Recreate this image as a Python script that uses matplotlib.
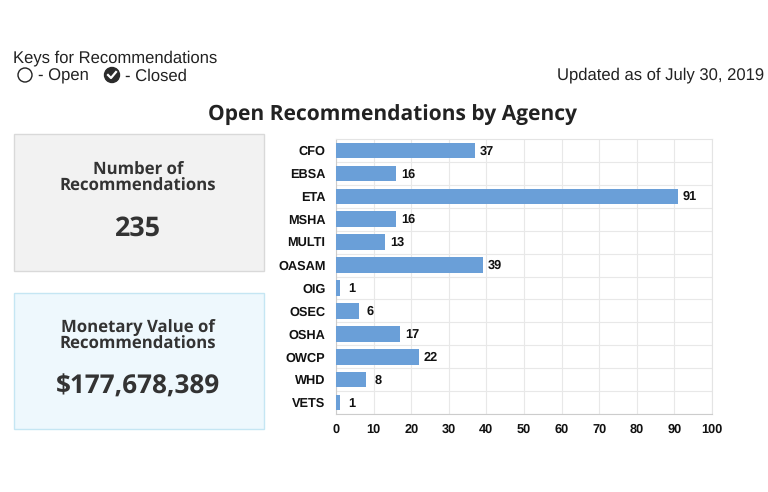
import matplotlib
matplotlib.use('Agg')
import matplotlib.pyplot as plt
from matplotlib.patches import Rectangle, Circle

agencies = ['CFO', 'EBSA', 'ETA', 'MSHA', 'MULTI', 'OASAM', 'OIG', 'OSEC', 'OSHA', 'OWCP', 'WHD', 'VETS']
open_recs = [37, 16, 91, 16, 13, 39, 1, 6, 17, 22, 8, 1]
x_ticks = list(range(0, 101, 10))

W, H = 768, 492
plt.rcParams['font.family'] = ['Open Sans', 'DejaVu Sans']
plt.rcParams['text.hinting'] = 'no_hinting'
helv = 'Liberation Sans'

fig = plt.figure(figsize=(W / 100, H / 100), dpi=100)

# full figure overlay in pixel coords for boxes and text
bg = fig.add_axes([0, 0, 1, 1])
bg.set_xlim(0, W)
bg.set_ylim(H, 0)
bg.axis('off')

bg.text(13, 58, 'Keys for Recommendations', family=helv, fontsize=12, color='#222222', va='center')
bg.add_patch(Circle((25, 75), 7, fc='white', ec='#222222', lw=1))
bg.text(38, 76, '- Open', family=helv, fontsize=12, color='#222222', va='center')
bg.add_patch(Circle((112, 75), 7.5, fc='#2b2b2b', ec='#2b2b2b', lw=1))
bg.plot([108, 111, 116], [75, 78, 72], color='white', lw=1.6)
bg.text(125, 76, '- Closed', family=helv, fontsize=12, color='#222222', va='center')
bg.text(764, 75, 'Updated as of July 30, 2019', family=helv, fontsize=12, color='#222222', va='center', ha='right')

bg.text(393, 116, 'Open Recommendations by Agency', fontsize=15.1, fontweight='bold', color='#222222', ha='center', va='center')

bg.add_patch(Rectangle((13.5, 134), 250, 136.5, fc='#f2f2f2', ec='#d9d9d9', lw=1))
bg.text(138, 169, 'Number of', fontsize=12.1, fontweight='bold', color='#333333', ha='center', va='center')
bg.text(138, 186, 'Recommendations', fontsize=12.1, fontweight='bold', color='#333333', ha='center', va='center')
bg.text(138, 229, '235', fontsize=19.4, fontweight='bold', color='#333333', ha='center', va='center')

bg.add_patch(Rectangle((13.5, 293), 250, 136, fc='#eef8fd', ec='#c5e6f3', lw=1))
bg.text(138, 327, 'Monetary Value of', fontsize=12.1, fontweight='bold', color='#333333', ha='center', va='center')
bg.text(138, 344, 'Recommendations', fontsize=12.1, fontweight='bold', color='#333333', ha='center', va='center')
bg.text(138, 387, '$177,678,389', fontsize=18.8, fontweight='bold', color='#333333', ha='center', va='center')

# bar chart
left, right, top, bottom = 336, 712, 139, 414
ax = fig.add_axes([left / W, 1 - bottom / H, (right - left) / W, (bottom - top) / H])
ypos = list(range(len(agencies)))
ax.barh(ypos, open_recs, height=0.68, color='#6a9fd8', zorder=3)
ax.set_xlim(0, 100)
ax.set_ylim(len(agencies) - 0.5, -0.5)
ax.set_yticks(ypos)
ax.set_yticklabels(agencies, family=helv, fontsize=9.2, fontweight='bold', color='#111111')
ax.set_xticks(x_ticks)
ax.set_xticklabels(x_ticks, family=helv, fontsize=9.2, fontweight='bold', color='#111111')
ax.tick_params(axis='y', length=0, pad=7.5)
ax.tick_params(axis='x', length=0, pad=6.5)

# grid lines sit on the band edges, not the bar centres
ax.set_yticks([y + 0.5 for y in ypos], minor=True)
ax.tick_params(axis='y', which='minor', length=0)
ax.grid(axis='x', color='#e8e8e8', lw=0.8, zorder=0)
ax.grid(axis='y', which='minor', color='#e8e8e8', lw=0.8, zorder=0)
for s in ax.spines.values():
    s.set_color('#e4e4e4')
    s.set_linewidth(0.8)
ax.spines['left'].set_color('#cccccc')
ax.spines['bottom'].set_color('#cccccc')

for y, v in zip(ypos, open_recs):
    ax.annotate(str(v), (v, y), xytext=(8.6, -0.5), textcoords='offset points', family=helv,
                fontsize=9.2, fontweight='bold', color='#111111', va='center', ha='center', zorder=4)

fig.savefig('out.png', dpi=100)
